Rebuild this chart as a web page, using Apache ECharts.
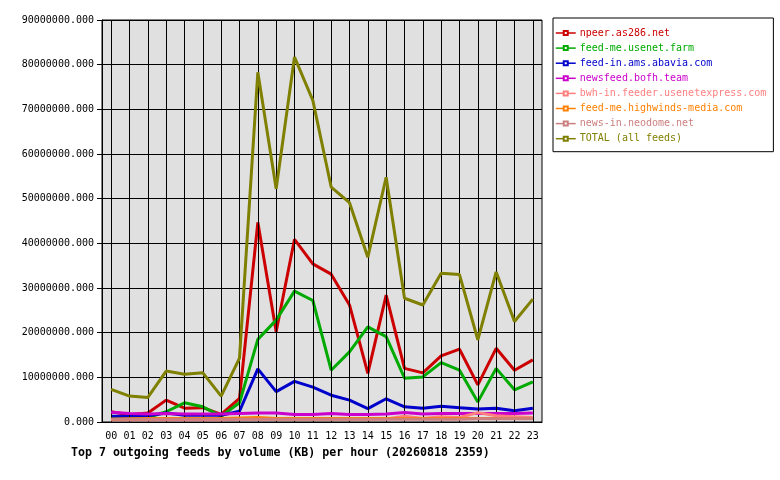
<!DOCTYPE html>
<html>
<head>
<meta charset="utf-8">
<title>Top 7 outgoing feeds</title>
<script src="https://cdn.jsdelivr.net/npm/echarts@6/dist/echarts.min.js"></script>
<style>
  html, body { margin: 0; padding: 0; background: #fff; }
  #chart { width: 780px; height: 480px; }
</style>
</head>
<body>
<div id="chart"></div>
<script>
/* 每小时出站 feed 流量（KB），数值读自原图 */

const hours = ['00','01','02','03','04','05','06','07','08','09','10','11',
               '12','13','14','15','16','17','18','19','20','21','22','23'];

// 单位：百万 KB
const npeer = [2.3, 1.6, 2.0, 4.9, 3.1, 3.2, 1.7, 5.3, 44.7, 20.2, 40.9, 35.4,
               33.1, 26.2, 10.9, 28.4, 12.0, 11.0, 14.8, 16.3, 8.3, 16.5, 11.6, 13.9];
const feedMeFarm = [1.0, 1.0, 1.0, 2.3, 4.3, 3.4, 1.3, 4.3, 18.5, 22.8, 29.3, 27.2,
                    11.6, 15.7, 21.3, 19.1, 9.8, 10.1, 13.3, 11.6, 4.5, 12.0, 7.2, 9.0];
const feedInAbavia = [1.3, 1.3, 1.4, 2.0, 1.5, 1.5, 1.5, 2.4, 11.9, 6.8, 9.1, 7.8,
                      6.0, 4.9, 3.0, 5.2, 3.4, 3.1, 3.5, 3.2, 2.9, 3.1, 2.5, 3.1];
const bofh = [2.2, 1.9, 1.8, 1.9, 1.8, 1.8, 1.8, 1.9, 2.0, 2.0, 1.7, 1.7,
              1.9, 1.7, 1.7, 1.8, 2.1, 1.8, 1.9, 1.9, 1.9, 1.9, 1.9, 2.0];
const usenetexpress = [0.5, 0.5, 0.5, 0.5, 0.5, 0.5, 0.5, 0.6, 0.6, 0.6, 0.6, 0.6,
                       0.6, 0.6, 0.6, 0.7, 1.3, 0.8, 1.2, 1.0, 2.1, 1.4, 1.2, 1.0];
const highwinds = [0.6, 0.7, 0.8, 0.8, 0.8, 0.8, 0.8, 0.9, 1.0, 0.8, 0.8, 0.8,
                   0.8, 0.8, 0.8, 0.8, 0.8, 0.8, 0.8, 0.8, 0.8, 0.8, 0.8, 0.8];
const neodome = [0.6, 0.6, 0.6, 0.6, 0.6, 0.6, 0.6, 0.6, 0.6, 0.6, 0.6, 0.6,
                 0.6, 0.6, 0.6, 0.6, 0.6, 0.6, 0.6, 0.6, 0.7, 0.7, 0.7, 0.7];
const total = [7.3, 5.8, 5.5, 11.4, 10.7, 11.0, 5.8, 14.3, 78.3, 52.2, 81.7, 72.0,
               52.6, 49.1, 36.9, 54.8, 27.7, 26.2, 33.3, 33.0, 18.4, 33.6, 22.5, 27.5];

const feedNames = [
  'npeer.as286.net',
  'feed-me.usenet.farm',
  'feed-in.ams.abavia.com',
  'newsfeed.bofh.team',
  'bwh-in.feeder.usenetexpress.com',
  'feed-me.highwinds-media.com',
  'news-in.neodome.net',
  'TOTAL (all feeds)'
];
const feedColors = ['#cc0000', '#00aa00', '#0000cc', '#cc00cc',
                    '#ff7f7f', '#ff8000', '#cc7f7f', '#7f7f00'];
const feedValues = [npeer, feedMeFarm, feedInAbavia, bofh,
                    usenetexpress, highwinds, neodome, total];

const yTicks = { min: 0, max: 90000000, step: 10000000 };

const MONO = '"DejaVu Sans Mono", "Liberation Mono", monospace';

const chart = echarts.init(document.getElementById('chart'), null, { renderer: 'canvas' });

// 竖向网格线落在每个小时刻度上（不是类目边界），用 markLine 画
const hourGridLines = {
  name: '__grid',
  type: 'line',
  data: [],
  silent: true,
  z: 1,
  markLine: {
    silent: true,
    symbol: 'none',
    animation: false,
    label: { show: false },
    emphasis: { disabled: true },
    lineStyle: { color: '#000', width: 1, type: 'solid' },
    data: hours.map(h => ({ xAxis: h }))
  }
};

const option = {
  animation: false,
  backgroundColor: '#ffffff',
  title: {
    text: 'Top 7 outgoing feeds by volume (KB) per hour (20260818 2359)',
    left: 71,
    top: 447,
    padding: 0,
    textStyle: { fontFamily: MONO, fontSize: 11.6, fontWeight: 'bold', color: '#000' }
  },
  legend: {
    orient: 'vertical',
    left: 553,
    top: 18,
    padding: [9, 7, 7, 2],
    itemGap: 3.1,
    itemWidth: 20,
    itemHeight: 5,
    borderColor: '#000',
    borderWidth: 1,
    backgroundColor: '#fff',
    lineStyle: { width: 1.5 },
    textStyle: { fontFamily: MONO, fontSize: 10, lineHeight: 12, padding: [0, 0, 0, -1] },
    data: feedNames.map((name, i) => ({
      name: name,
      textStyle: { color: feedColors[i] }
    }))
  },
  grid: {
    left: 102,
    top: 20,
    right: 238,
    bottom: 58,
    show: true,
    backgroundColor: '#e0e0e0',
    borderColor: '#000',
    borderWidth: 1
  },
  xAxis: {
    type: 'category',
    data: hours,
    boundaryGap: true,
    axisLine: { lineStyle: { color: '#000', width: 1 } },
    axisTick: { alignWithLabel: true, length: 5, lineStyle: { color: '#000' } },
    axisLabel: { color: '#000', fontFamily: MONO, fontSize: 10, margin: 9, interval: 0 },
    splitLine: { show: false }
  },
  yAxis: {
    type: 'value',
    min: yTicks.min,
    max: yTicks.max,
    interval: yTicks.step,
    axisLine: { show: true, lineStyle: { color: '#000', width: 1 } },
    axisTick: { show: true, length: 5, lineStyle: { color: '#000' } },
    axisLabel: {
      color: '#000', fontFamily: MONO, fontSize: 10, margin: 8,
      formatter: v => v.toFixed(3)
    },
    splitLine: { show: true, lineStyle: { color: '#000', width: 1 } }
  },
  series: [hourGridLines].concat(feedNames.map((name, i) => ({
    name: name,
    type: 'line',
    data: feedValues[i].map(v => Math.round(v * 1000000)),
    color: feedColors[i],
    symbol: 'emptyRect',
    symbolSize: 4,
    showSymbol: false,
    lineStyle: { width: 3, color: feedColors[i] },
    z: 2 + i
  })))
};

chart.setOption(option);
</script>
</body>
</html>
